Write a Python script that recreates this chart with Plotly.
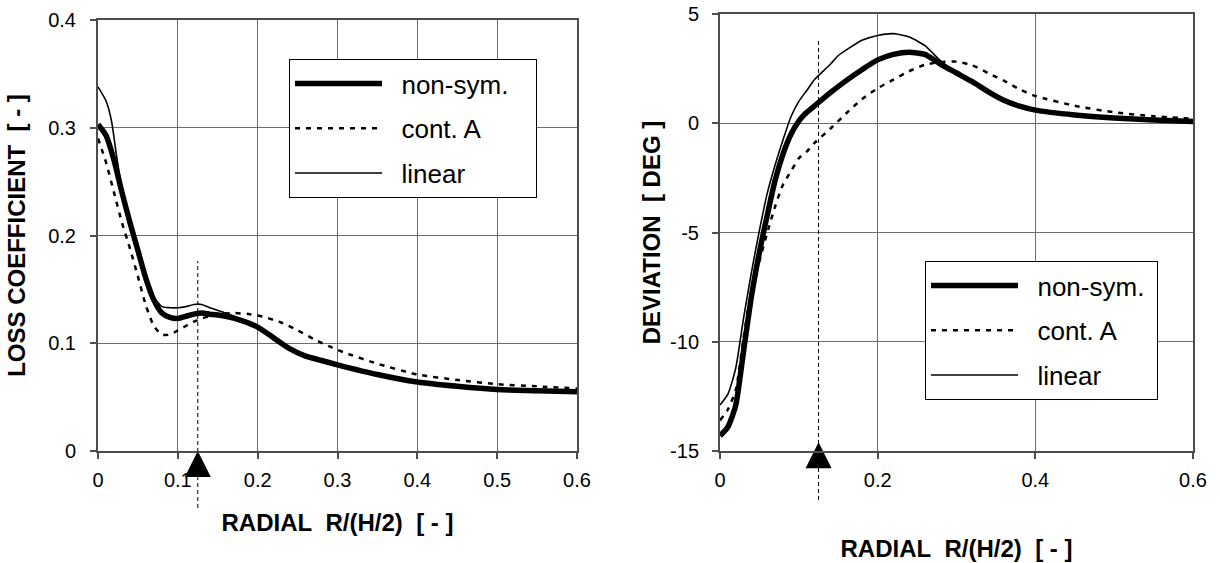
import plotly.graph_objects as go

# ---------------- data: LOSS COEFFICIENT (left) ----------------
loss_nonsym_x = [0, 0.01, 0.02, 0.03, 0.04, 0.05, 0.06, 0.07, 0.08, 0.09, 0.10, 0.11, 0.12, 0.13,
                 0.14, 0.16, 0.18, 0.20, 0.22, 0.24, 0.26, 0.28, 0.30, 0.35, 0.40, 0.45, 0.50, 0.55, 0.60]
loss_nonsym_y = [0.303, 0.293, 0.270, 0.240, 0.212, 0.186, 0.160, 0.140, 0.128, 0.124, 0.123, 0.125, 0.127, 0.128,
                 0.127, 0.125, 0.121, 0.115, 0.105, 0.095, 0.088, 0.084, 0.080, 0.071, 0.064, 0.060, 0.057, 0.056, 0.055]

loss_contA_x = [0, 0.01, 0.02, 0.03, 0.04, 0.05, 0.06, 0.07, 0.08, 0.09, 0.10, 0.11, 0.12, 0.13, 0.15, 0.17,
                0.19, 0.21, 0.23, 0.25, 0.27, 0.29, 0.31, 0.35, 0.40, 0.45, 0.50, 0.55, 0.60]
loss_contA_y = [0.290, 0.268, 0.240, 0.212, 0.188, 0.162, 0.135, 0.116, 0.108, 0.108, 0.112, 0.116, 0.120, 0.123,
                0.127, 0.128, 0.127, 0.124, 0.119, 0.112, 0.104, 0.097, 0.091, 0.081, 0.071, 0.066, 0.062, 0.060, 0.058]

loss_linear_x = [0, 0.01, 0.017, 0.023, 0.03, 0.04, 0.05, 0.06, 0.07, 0.08, 0.09, 0.10, 0.11, 0.12, 0.13, 0.14,
                 0.16, 0.18, 0.20, 0.22, 0.24, 0.26, 0.28, 0.30, 0.35, 0.40, 0.45, 0.50, 0.55, 0.60]
loss_linear_y = [0.338, 0.325, 0.306, 0.275, 0.244, 0.214, 0.188, 0.163, 0.143, 0.134, 0.133, 0.133, 0.134, 0.136,
                 0.136, 0.133, 0.128, 0.122, 0.115, 0.105, 0.095, 0.088, 0.084, 0.080, 0.071, 0.064, 0.060, 0.057,
                 0.056, 0.055]

# ---------------- data: DEVIATION (right) ----------------
dev_nonsym_x = [0, 0.01, 0.02, 0.03, 0.04, 0.05, 0.06, 0.07, 0.08, 0.09, 0.10, 0.11, 0.12, 0.14, 0.16, 0.18,
                0.20, 0.22, 0.24, 0.26, 0.28, 0.30, 0.32, 0.34, 0.36, 0.38, 0.40, 0.45, 0.50, 0.55, 0.60]
dev_nonsym_y = [-14.3, -13.9, -12.9, -10.4, -7.9, -5.9, -4.2, -2.6, -1.4, -0.5, 0.1, 0.5, 0.8, 1.4, 1.95, 2.45,
                2.9, 3.15, 3.25, 3.15, 2.7, 2.3, 1.9, 1.45, 1.05, 0.78, 0.6, 0.38, 0.24, 0.15, 0.08]

dev_contA_x = [0, 0.01, 0.02, 0.03, 0.04, 0.05, 0.06, 0.07, 0.08, 0.09, 0.10, 0.11, 0.12, 0.14, 0.16, 0.18,
               0.20, 0.22, 0.24, 0.26, 0.28, 0.30, 0.32, 0.34, 0.36, 0.38, 0.40, 0.45, 0.50, 0.55, 0.60]
dev_contA_y = [-13.6, -13.1, -12.2, -9.8, -7.6, -6.3, -5.0, -3.8, -2.8, -2.2, -1.6, -1.3, -0.9, -0.25, 0.45, 1.1,
               1.6, 2.0, 2.38, 2.68, 2.8, 2.82, 2.65, 2.3, 1.95, 1.55, 1.25, 0.8, 0.5, 0.32, 0.21]

dev_linear_x = [0, 0.01, 0.02, 0.03, 0.04, 0.05, 0.06, 0.07, 0.08, 0.09, 0.10, 0.11, 0.12, 0.14, 0.15, 0.16,
                0.18, 0.20, 0.22, 0.24, 0.26, 0.28, 0.30, 0.32, 0.34, 0.36, 0.38, 0.40, 0.45, 0.50, 0.55, 0.60]
dev_linear_y = [-12.9, -12.4, -11.2, -8.9, -6.8, -4.9, -3.2, -1.9, -0.75, 0.3, 1.0, 1.5, 2.0, 2.7, 3.1, 3.35,
                3.8, 4.02, 4.1, 3.95, 3.55, 2.85, 2.3, 1.9, 1.45, 1.05, 0.78, 0.6, 0.38, 0.24, 0.15, 0.08]

series_names = ["non-sym.", "cont. A", "linear"]
loss_ticks = [0, 0.1, 0.2, 0.3, 0.4]
loss_ticktext = ["0", "0.1", "0.2", "0.3", "0.4"]
dev_ticks = [-15, -10, -5, 0, 5]
dev_ticktext = ["-15", "-10", "-5", "0", "5"]
marker_x = 0.125          # design point marked with the arrow
dev_marker_tip = -14.6

FONT = "Liberation Sans, Arial, sans-serif"
GRID = "#6e6e6e"
AX = "#4d4d4d"
NB = "\u00a0"

fig = go.Figure()

styles = [dict(color="black", width=5.5),
          dict(color="black", width=2.5, dash="5px,6px"),
          dict(color="black", width=1.6)]

left_sets = [(loss_nonsym_x, loss_nonsym_y), (loss_contA_x, loss_contA_y), (loss_linear_x, loss_linear_y)]
right_sets = [(dev_nonsym_x, dev_nonsym_y), (dev_contA_x, dev_contA_y), (dev_linear_x, dev_linear_y)]

for i in range(3):
    x, y = left_sets[i]
    fig.add_trace(go.Scatter(x=x, y=y, mode="lines", name=NB * 2 + series_names[i] + NB * 3,
                             line=dict(shape="spline", smoothing=0.6, **styles[i]),
                             xaxis="x", yaxis="y", legend="legend", legendgroup="L" + str(i)))
for i in range(3):
    x, y = right_sets[i]
    fig.add_trace(go.Scatter(x=x, y=y, mode="lines", name=NB * 2 + series_names[i] + NB,
                             line=dict(shape="spline", smoothing=0.6, **styles[i]),
                             xaxis="x2", yaxis="y2", legend="legend2", legendgroup="R" + str(i)))

# arrow markers
fig.add_trace(go.Scatter(x=[marker_x], y=[0], mode="markers", xaxis="x", yaxis="y", showlegend=False,
                         marker=dict(symbol="arrow-up", size=26, color="black", line=dict(width=0)), cliponaxis=False))
fig.add_trace(go.Scatter(x=[marker_x], y=[dev_marker_tip], mode="markers", xaxis="x2", yaxis="y2", showlegend=False,
                         marker=dict(symbol="arrow-up", size=26, color="black", line=dict(width=0)), cliponaxis=False))

# dashed vertical marker lines
fig.add_shape(type="line", xref="x", yref="paper", x0=marker_x, x1=marker_x, y0=0.0977, y1=0.5364,
              line=dict(color="black", width=1, dash="4px,3px"), layer="above")
fig.add_shape(type="line", xref="x2", yref="paper", x0=marker_x, x1=marker_x, y0=0.112, y1=0.931,
              line=dict(color="black", width=1, dash="4px,3px"), layer="above")

axis_common = dict(showgrid=True, gridcolor=GRID, gridwidth=1.2, zeroline=False, showline=True, mirror=True,
                   linecolor=AX, linewidth=2, ticks="outside", ticklen=6, tickcolor=AX, tickwidth=1.5,
                   automargin=False, tickfont=dict(family=FONT, size=20, color="black"))

title_font = dict(family=FONT, size=24, color="black")
legend_common = dict(xanchor="left", yanchor="top", bgcolor="white", bordercolor="black", borderwidth=1,
                     font=dict(family=FONT, size=26, color="black"), itemwidth=87,
                     tracegroupgap=8, traceorder="grouped")

fig.update_layout(
    width=1220, height=563,
    paper_bgcolor="white", plot_bgcolor="white",
    margin=dict(l=0, r=0, t=0, b=0),
    xaxis=dict(domain=[98 / 1220, 577 / 1220], range=[0, 0.6], dtick=0.1, tick0=0, anchor="y",
               ticklabelstandoff=4,
               title=dict(text="<b>RADIAL\u00a0 R/(H/2)\u00a0 [ - ]</b>", font=title_font, standoff=24), **axis_common),
    yaxis=dict(domain=[1 - 451 / 563, 1 - 20 / 563], range=[0, 0.4], tickvals=loss_ticks, ticktext=loss_ticktext,
               anchor="x", ticklabelstandoff=10,
               title=dict(text="<b>LOSS COEFFICIENT\u00a0 [ - ]</b>", font=title_font, standoff=16), **axis_common),
    xaxis2=dict(domain=[720 / 1220, 1193 / 1220], range=[0, 0.6], dtick=0.2, tick0=0, anchor="y2",
                ticklabelstandoff=4,
                title=dict(text="<b>RADIAL\u00a0 R/(H/2)\u00a0 [ - ]</b>", font=title_font, standoff=50), **axis_common),
    yaxis2=dict(domain=[1 - 451 / 563, 1 - 14 / 563], range=[-15, 5], tickvals=dev_ticks, ticktext=dev_ticktext,
                anchor="x2", ticklabelstandoff=9,
                title=dict(text="<b>DEVIATION\u00a0 [ DEG ]</b>", font=title_font, standoff=3), **axis_common),
    legend=dict(x=289 / 1220, y=1 - 59 / 563, **legend_common),
    legend2=dict(x=925 / 1220, y=1 - 261 / 563, **legend_common),
    showlegend=True,
)

fig.write_html("out.html", config={"displayModeBar": False},
               post_script="document.body.style.margin='0';document.body.style.overflow='hidden';")
